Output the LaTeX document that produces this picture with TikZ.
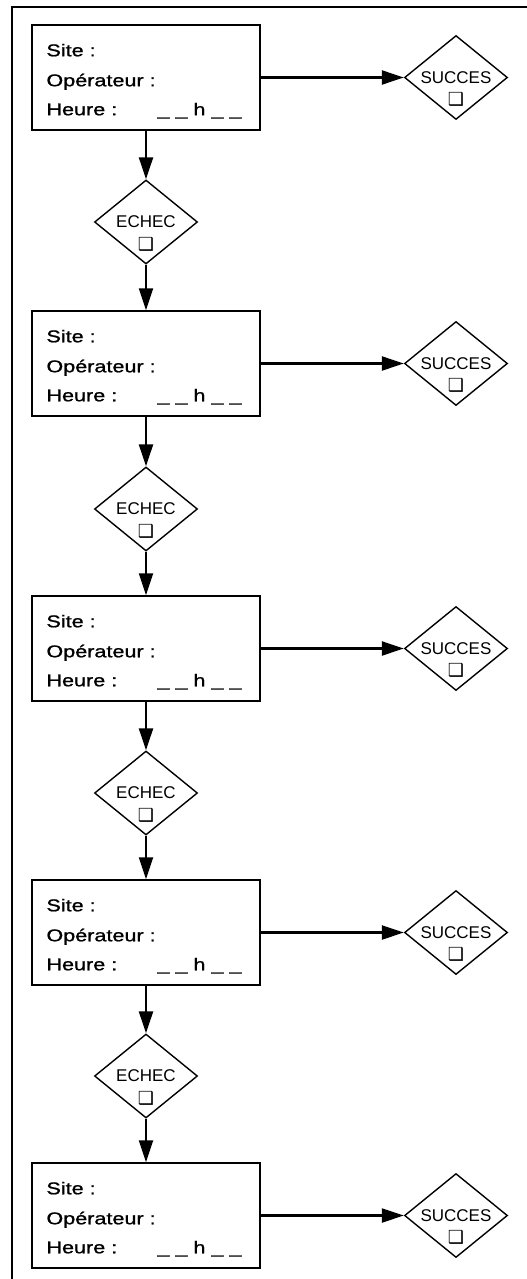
\documentclass[tikz,border=0pt]{standalone}
\usepackage{fontspec}
\setmainfont{Liberation Sans}
\newfontfamily\boxfont[FakeStretch=1.27,FakeBold=1]{Liberation Sans}
\newfontfamily\symfont{DejaVu Sans}
\usetikzlibrary{shapes.geometric,arrows.meta,calc}
\begin{document}
\begin{tikzpicture}[x=1pt,y=-1pt,
  boxst/.style={draw, line width=1.5pt, minimum width=228pt, minimum height=105pt, inner sep=0pt},
  lbl/.style={font=\boxfont\fontsize{17}{19}\selectfont, anchor=base west, inner sep=0pt},
  dia/.style={draw, diamond, aspect=1.2, line width=1.4pt, inner sep=0pt, minimum width=103pt, minimum height=84pt},
  dtxt/.style={font=\fontsize{17}{19}\selectfont, inner sep=0pt},
  chk/.style={font=\symfont\fontsize{18}{18}\selectfont, inner sep=0pt},
  conn/.style={line width=2.3pt, -{Triangle[length=22pt,width=14pt]}},
  frame/.style={line width=1.4pt}
]
\useasboundingbox (0,0) rectangle (527,1279);
\fill[white] (0,0) rectangle (527,1279);
\draw[frame] (12,1279) -- (12,7) -- (527,7);

\foreach \i/\yt in {1/25, 2/311, 3/596, 4/880, 5/1163} {
  \node[boxst] (b\i) at (146, \yt+52.5) {};
  \node[lbl] (bs\i) at ($(b\i.north west)+(15,32)$) {Site :};
  \node[lbl] (bo\i) at ($(b\i.north west)+(15,62)$) {Opérateur :};
  \node[lbl] (bh\i) at ($(b\i.north west)+(15,91)$) {\makebox[111pt][l]{Heure :}\_ \_ h \_ \_};
  \node[dia] (s\i) at (456, \yt+52.5) {};
  \node[dtxt] (st\i) at (s\i.center) {SUCCES};
  \node[chk] (sc\i) at ($(s\i.center)+(0,22)$) {❑};
  \draw[conn] (b\i.east) -- (s\i.west);
}

\foreach \i/\yc in {1/222, 2/509, 3/793, 4/1076} {
  \node[dia] (e\i) at (146, \yc) {};
  \node[dtxt] (et\i) at (e\i.center) {ECHEC};
  \node[chk] (ec\i) at ($(e\i.center)+(0,22)$) {❑};
}

\foreach \i/\j in {1/2, 2/3, 3/4, 4/5} {
  \draw[conn] (b\i.south) -- (e\i.north);
  \draw[conn] (e\i.south) -- (b\j.north);
}
\end{tikzpicture}
\end{document}
